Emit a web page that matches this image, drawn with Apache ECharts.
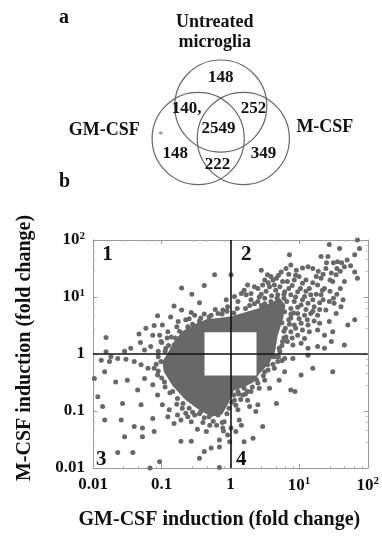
<!DOCTYPE html>
<html>
<head>
<meta charset="utf-8">
<script src="https://cdn.jsdelivr.net/npm/echarts/dist/echarts.min.js"></script>
<style>
  html, body { margin: 0; padding: 0; background: #fff; }
  #chart { width: 382px; height: 540px; }
</style>
</head>
<body>
<div id="chart"></div>
<script>
// ---- panel a: Venn diagram ----
var vennSets = ['Untreated\nmicroglia', 'GM-CSF', 'M-CSF'];
var vennCounts = ['148', '140,', '252', '2549', '148', '222', '349'];

// ---- panel b: scatter, values are log10(fold change) ----
var tickLabels = ['0.01', '0.1', '1', '10{s|1}', '10{s|2}'];
var quadrantNames = ['1', '2', '3', '4'];
var axisMin = 0.01, axisMax = 100;
var lowCut = 0.42, highCut = 2.4;

// outline of the solid dense cloud (log10 x, log10 y)
var coreOutline = [
  [-0.92, 0], [-0.82, 0.22], [-0.70, 0.40], [-0.52, 0.52], [-0.35, 0.61], [-0.18, 0.63],
  [0, 0.66], [0.18, 0.72], [0.40, 0.80], [0.59, 0.90], [0.72, 0.98], [0.80, 0.86],
  [0.77, 0.63], [0.69, 0.33], [0.65, 0.04], [0.57, -0.16], [0.42, -0.35], [0.33, -0.50],
  [0.20, -0.58], [0.05, -0.64], [-0.03, -0.87], [-0.12, -1.06], [-0.28, -1.10],
  [-0.48, -0.96], [-0.66, -0.80], [-0.84, -0.56], [-0.97, -0.31], [-0.99, -0.13]
];

// scattered genes (log10 GM-CSF fold, log10 M-CSF fold)
var pointsLog10 = [
  // quadrant 1
  [-0.23, 1.39], [-0.38, 1.20], [-0.71, 1.16], [-0.56, 1.05], [-0.82, 0.84], [-0.45, 0.90],
  [-0.71, 0.77], [-0.57, 0.73], [-1.06, 0.67], [-0.87, 0.65], [-1.11, 0.50], [-1.23, 0.45],
  [-0.99, 0.51], [-0.91, 0.39], [-1.33, 0.35], [-1.81, 0.29], [-1.31, 0.20], [-1.13, 0.33],
  [-1.03, 0.33], [-0.74, 0.40], [-1.16, 0.13], [-1.54, 0.05], [-1.81, 0.04], [-0.06, 0.95],
  [-0.04, 0.83], [-0.76, 0.57], [-0.65, 0.60], [-0.52, 0.68], [-0.43, 0.63], [-0.31, 0.65],
  [-0.18, 0.71], [-0.11, 0.77], [-1.45, 0.10], [-1.25, 0.07], [-1.01, 0.22], [-0.86, 0.30],
  [-0.82, 0.16], [-0.94, 0.10],
  [-0.95, 0.05], [-0.90, 0.15], [-0.80, 0.28], [-0.70, 0.35], [-0.62, 0.48], [-0.55, 0.52],
  [-0.45, 0.58], [-0.38, 0.70], [-0.28, 0.68], [-0.22, 0.78], [-0.12, 0.70], [-0.05, 0.75],
  [-1.05, 0.05], [-1.00, 0.20], [-0.92, 0.28], [-0.78, 0.48], [-0.60, 0.62],
  // quadrant 2
  [1.85, 2.00], [1.88, 1.85], [1.59, 1.85], [1.81, 1.74], [1.44, 1.92], [1.32, 1.71],
  [1.42, 1.71], [0.86, 1.74], [1.56, 1.62], [1.66, 1.53], [1.81, 1.44], [1.85, 1.33],
  [1.39, 1.50], [1.47, 1.42], [1.54, 1.39], [1.49, 1.27], [1.13, 1.53], [1.05, 1.51],
  [1.20, 1.50], [0.88, 1.56], [0.96, 1.47], [0.45, 1.47], [0.54, 1.39], [0.67, 1.33],
  [0.76, 1.27], [0.20, 1.12], [0.16, 1.06], [0.23, 1.04], [0.40, 1.15], [0.47, 1.21],
  [0.57, 1.18], [1.05, 1.24], [1.15, 1.15], [1.27, 1.21], [1.34, 1.12], [1.44, 0.92],
  [1.51, 0.89], [1.64, 0.95], [1.61, 0.83], [1.54, 0.71], [1.39, 0.77], [1.30, 0.54],
  [1.71, 0.51], [1.81, 0.60], [1.49, 0.39], [1.15, 0.39], [1.03, 0.19], [0.91, 0.16],
  [1.27, 0.13], [1.37, 0.10], [1.13, 0.10], [0.76, 0.22], [0.81, 0.30], [0.71, 0.10],
  [0.01, 1.39], [0.69, 1.04], [0.79, 1.09], [0.88, 1.04], [0.98, 1.09], [1.08, 1.01],
  [1.17, 1.04], [0.93, 0.92], [1.03, 0.86], [1.13, 0.89], [1.22, 0.83], [0.88, 0.80],
  [0.98, 0.71], [1.08, 0.68], [1.17, 0.71], [1.27, 0.68], [0.88, 0.63], [0.93, 0.51],
  [1.03, 0.54], [1.13, 0.51], [0.88, 0.39], [0.83, 0.22], [0.98, 0.33], [1.08, 0.27],
  [0.64, 1.21], [0.83, 1.27], [0.93, 1.30], [1.00, 1.36], [0.74, 1.44], [0.81, 1.50],
  [0.59, 1.36], [0.50, 1.30], [0.25, 1.21], [0.35, 1.18], [0.30, 1.06], [0.11, 0.92],
  [0.06, 1.01], [0.40, 0.92], [0.50, 0.98], [0.59, 0.92], [0.69, 0.83], [0.79, 0.74],
  [1.32, 1.04], [1.37, 1.15], [1.25, 1.36], [1.32, 1.33], [1.66, 1.27], [1.27, 0.42],
  [1.37, 0.33], [1.47, 0.22], [1.66, 0.16], [1.44, 0.57],
  [0.45, 1.05], [0.52, 1.10], [0.60, 1.02], [0.66, 1.12], [0.72, 1.18], [0.78, 0.98],
  [0.85, 1.15], [0.90, 1.20], [0.95, 1.00], [1.02, 1.15], [1.10, 1.10], [1.20, 0.95],
  [1.25, 1.05], [1.30, 0.90], [1.35, 0.95], [1.05, 0.95], [0.98, 0.82], [1.10, 0.78],
  [1.20, 0.75], [1.30, 0.78], [0.92, 0.72], [1.00, 0.62], [1.12, 0.60], [1.22, 0.58],
  [0.86, 0.52], [0.95, 0.45], [1.05, 0.42], [0.90, 0.28], [0.78, 0.40], [0.75, 0.55],
  [0.72, 0.70], [0.68, 0.78], [0.62, 0.85], [0.50, 0.88], [0.35, 0.88], [0.30, 0.95],
  [0.42, 1.00], [0.55, 1.25], [0.62, 1.30], [0.70, 1.38], [0.85, 1.40], [0.95, 1.38],
  [1.10, 1.30], [1.20, 1.25], [1.45, 1.30], [1.55, 1.50], [1.60, 1.45], [1.62, 1.60],
  [1.70, 1.65], [1.75, 1.55], [1.50, 1.60], [1.40, 1.60], [1.28, 1.45], [1.35, 1.40],
  [1.45, 1.10], [1.55, 1.05], [1.60, 1.15], [1.50, 0.98],
  [0.05, 0.72], [0.10, 0.80], [0.22, 0.80], [0.28, 0.85], [0.45, 0.85],
  [0.72, 0.05], [0.75, 0.15], [0.78, 0.28], [0.80, 0.45], [0.85, 0.60], [0.88, 0.70],
  [0.82, 0.92], [0.78, 1.05], [0.68, 0.98], [0.60, 0.10],
  // quadrant 3
  [-1.88, -0.11], [-1.76, -0.13], [-1.64, -0.08], [-1.52, -0.09], [-1.40, -0.13],
  [-1.83, -0.31], [-1.67, -0.49], [-1.50, -0.46], [-1.93, -0.75], [-1.86, -0.92],
  [-1.57, -0.87], [-1.30, -0.89], [-1.83, -1.16], [-1.59, -1.16], [-1.13, -1.13],
  [-1.40, -1.27], [-1.28, -1.30], [-1.11, -1.36], [-1.54, -1.45], [-1.28, -1.45],
  [-0.72, -1.53], [-0.57, -1.53], [-0.82, -1.22], [-0.72, -1.16], [-0.57, -1.19],
  [-0.48, -1.32], [-0.35, -1.36], [-0.28, -1.65], [-0.38, -1.71], [-0.45, -1.83],
  [-0.16, -1.51], [-0.16, -1.63], [-1.64, -1.73], [-1.42, -1.73], [-1.03, -1.89],
  [-1.17, -2.00], [-0.16, -1.99], [-1.74, -0.05], [-1.98, -0.43], [-1.30, -0.19],
  [-1.20, -0.25], [-1.25, -0.43], [-1.13, -0.54], [-1.35, -0.63], [-1.06, -0.72],
  [-0.99, -0.89], [-0.89, -0.98], [-0.91, -1.10], [-0.77, -1.07], [-0.65, -1.04],
  [-0.52, -1.07], [-0.43, -1.01], [-0.31, -1.10], [-0.18, -1.07], [-0.09, -1.19],
  [-0.11, -1.30], [-0.04, -1.42], [-0.69, -0.87], [-0.77, -0.78], [-0.84, -0.66],
  [-0.26, -0.87], [-0.14, -0.89], [-0.09, -0.78], [-0.96, -0.49], [-1.06, -0.37],
  [-1.11, -0.25], [-1.01, -0.13], [-0.91, -0.11], [-0.01, -1.54],
  [-1.05, -0.05], [-1.08, -0.18], [-1.05, -0.30], [-1.00, -0.42], [-0.95, -0.58],
  [-0.88, -0.68], [-0.78, -0.88], [-0.70, -0.95], [-0.60, -0.95], [-0.55, -1.02],
  [-0.45, -1.05], [-0.38, -1.12], [-0.25, -1.18], [-0.20, -1.25], [-0.12, -1.20],
  [-0.05, -1.05], [-0.02, -0.95], [-0.30, -1.25], [-0.10, -1.35], [-0.40, -1.20],
  [-0.62, -1.10],
  // quadrant 4
  [1.13, -0.02], [1.20, -0.25], [1.49, -0.31], [1.03, -0.37], [0.79, -0.31], [0.71, -0.46],
  [0.57, -0.60], [0.88, -0.63], [0.94, -0.66], [0.67, -0.87], [0.50, -0.31], [0.64, -0.25],
  [0.69, -0.13], [0.79, -0.08], [0.91, -0.08], [0.37, -1.01], [0.28, -0.92], [0.11, -0.98],
  [0.16, -1.25], [0.47, -1.27], [0.08, -1.36], [0.20, -1.54], [0.33, -1.48], [0.13, -1.16],
  [0.06, -0.81], [0.25, -0.81], [0.40, -0.89], [0.30, -0.66], [0.20, -0.60], [0.01, -1.30],
  [0.45, -0.13], [0.54, -0.19], [0.62, -0.05], [0.50, -0.46], [0.40, -0.51], [0.42, -0.60],
  [0.11, -0.66], [0.18, -0.72],
  [0.05, -0.72], [0.12, -0.70], [0.25, -0.66], [0.32, -0.58], [0.38, -0.45], [0.48, -0.38],
  [0.55, -0.28], [0.62, -0.18], [0.70, -0.05], [0.75, -0.12], [0.02, -0.85], [0.08, -0.90],
  [0.15, -0.80], [0.22, -0.70], [0.65, -0.05]
];

// where the quadrant numbers sit (log10)
var quadrantSpots = [[-1.79, 1.74], [0.23, 1.74], [-1.88, -1.86], [0.16, -1.86]];

// Venn layout, in circle-radius units
var circleLayout = [[0, 0.46], [-0.49, -0.23], [0.49, -0.23]];
var setLabelLayout = [[-0.13, 2.02], [-2.53, -0.05], [2.26, 0]];
var countLayout = [[0, 1.07], [-0.74, 0.41], [0.71, 0.41], [-0.05, -0.02], [-0.99, -0.55], [-0.07, -0.79], [0.93, -0.55]];

var serif = 'Liberation Serif';
var dotColor = '#686868';
var ink = '#111';

function fold(p) { return [Math.pow(10, p[0]), Math.pow(10, p[1])]; }

function tickText(v) {
  var e = Math.round(Math.log(v) / Math.LN10);
  return tickLabels[e + 2] || '';
}

var richTick = {
  s: { fontSize: 11, fontFamily: serif, fontWeight: 'bold', verticalAlign: 'top', padding: [0, 0, 8, 0], color: ink }
};

function logAxis(pos, showLabel) {
  return {
    type: 'log', logBase: 10, gridIndex: 0, position: pos,
    min: axisMin, max: axisMax,
    axisLine: { show: true, lineStyle: { color: '#999', width: 1 } },
    axisTick: { show: true, inside: true, length: 4, lineStyle: { color: '#999' } },
    minorTick: { show: true, splitNumber: 5, length: 2, lineStyle: { color: '#bbb' } },
    splitLine: { show: false },
    axisLabel: {
      show: showLabel, formatter: tickText, margin: 8,
      fontFamily: serif, fontWeight: 'bold', fontSize: 17, color: ink,
      rich: richTick
    }
  };
}

var xBottom = logAxis('bottom', true);
xBottom.name = 'GM-CSF induction (fold change)';
xBottom.nameLocation = 'middle';
xBottom.nameGap = 42;
xBottom.nameTextStyle = { fontFamily: serif, fontWeight: 'bold', fontSize: 20, color: ink, padding: [0, 22, 0, 0] };

var yLeft = logAxis('left', true);
yLeft.name = 'M-CSF induction (fold change)';
yLeft.nameLocation = 'middle';
yLeft.nameGap = 58;
yLeft.nameTextStyle = { fontFamily: serif, fontWeight: 'bold', fontSize: 20, color: ink, padding: [0, 0, 0, 12] };

// text placed at data spots: label sits on an invisible one-pixel symbol
function textSeries(xi, yi, spots, texts, style) {
  var label = {
    show: true, position: 'inside', fontFamily: serif, fontWeight: 'bold',
    color: ink, textBorderWidth: 0, opacity: 1,
    formatter: function (p) { return texts[p.dataIndex]; }
  };
  for (var k in style) label[k] = style[k];
  return {
    type: 'scatter', xAxisIndex: xi, yAxisIndex: yi, silent: true, z: 6,
    symbolSize: 1, itemStyle: { color: '#fff', borderWidth: 0 },
    data: spots, label: label
  };
}

var option = {
  animation: false,
  backgroundColor: '#fff',
  title: [
    { text: 'a', left: 59, top: 8, padding: 0, textStyle: { fontFamily: serif, fontWeight: 'bold', fontSize: 20, color: ink } },
    { text: 'b', left: 59, top: 172, padding: 0, textStyle: { fontFamily: serif, fontWeight: 'bold', fontSize: 20, color: ink } }
  ],
  grid: [
    { left: 93, right: 14, top: 240, bottom: 72 },
    { left: 59.5, top: 10.2, width: 329, height: 235 }
  ],
  xAxis: [
    xBottom,
    logAxis('top', false),
    { type: 'value', gridIndex: 1, min: -3.5, max: 3.5, show: false }
  ],
  yAxis: [
    yLeft,
    logAxis('right', false),
    { type: 'value', gridIndex: 1, min: -2.5, max: 2.5, show: false }
  ],
  series: [
    {
      type: 'custom', xAxisIndex: 0, yAxisIndex: 0, z: 1, silent: true,
      data: [[1, 1]],
      renderItem: function (params, api) {
        var pts = coreOutline.map(function (p) { return api.coord(fold(p)); });
        return { type: 'polygon', shape: { points: pts }, style: { fill: dotColor } };
      }
    },
    {
      type: 'scatter', xAxisIndex: 0, yAxisIndex: 0, z: 2, silent: true,
      symbolSize: 5,
      itemStyle: { color: dotColor, opacity: 1 },
      data: pointsLog10.map(fold)
    },
    {
      type: 'custom', xAxisIndex: 0, yAxisIndex: 0, z: 3, silent: true,
      data: [[lowCut, lowCut, highCut, highCut]],
      renderItem: function (params, api) {
        var a = api.coord([api.value(0), api.value(1)]);
        var b = api.coord([api.value(2), api.value(3)]);
        return { type: 'rect', shape: { x: a[0], y: b[1], width: b[0] - a[0], height: a[1] - b[1] }, style: { fill: '#fff' } };
      },
      markLine: {
        silent: true, symbol: 'none', label: { show: false },
        lineStyle: { color: '#111', width: 1.6, type: 'solid' },
        data: [{ xAxis: 1 }, { yAxis: 1 }]
      }
    },
    textSeries(0, 0, quadrantSpots.map(fold), quadrantNames, { fontSize: 21 }),
    {
      type: 'custom', xAxisIndex: 2, yAxisIndex: 2, silent: true, clip: false,
      data: circleLayout,
      renderItem: function (params, api) {
        var c = api.coord([api.value(0), api.value(1)]);
        var r = api.size([1, 0])[0];
        return { type: 'circle', shape: { cx: c[0], cy: c[1], r: r }, style: { fill: 'none', stroke: '#666', lineWidth: 1.2 } };
      }
    },
    textSeries(2, 2, setLabelLayout, vennSets, { fontSize: 18, lineHeight: 20 }),
    textSeries(2, 2, countLayout, vennCounts, { fontSize: 17 }),
    textSeries(2, 2, [[-1.30, -0.16]], ['*'], { fontSize: 11, fontWeight: 'normal', color: '#777' })
  ]
};

var chart = echarts.init(document.getElementById('chart'));
chart.setOption(option);
</script>
</body>
</html>
